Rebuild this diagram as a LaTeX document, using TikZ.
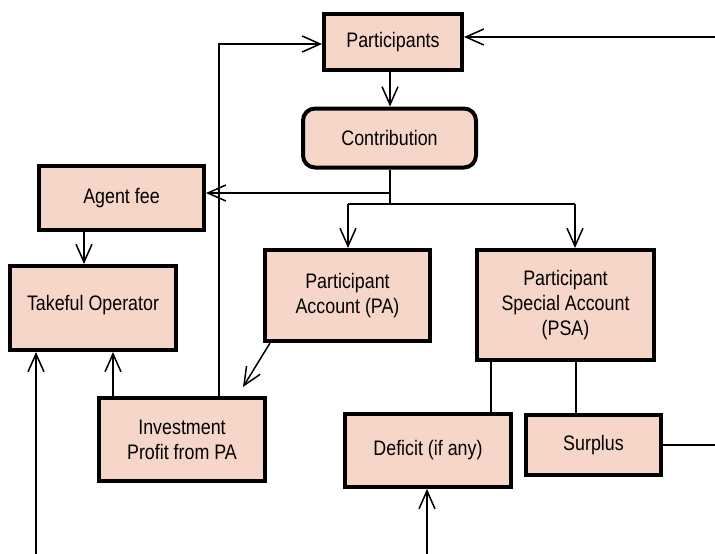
\documentclass[tikz,border=0pt]{standalone}
\usepackage{fontspec}
\setmainfont{Liberation Sans}[FakeStretch=0.85]
\usetikzlibrary{arrows.meta,calc}
\definecolor{boxfill}{RGB}{246,214,201}
\begin{document}
\begin{tikzpicture}[x=1pt,y=-1pt,
  box/.style={draw=black,fill=boxfill,line width=4pt,align=center,
    inner sep=2pt,font=\fontsize{21}{25}\selectfont},
  link/.style={draw=black,line width=1.5pt},
  arr/.style={link,-{Straight Barb[length=18pt,width=16pt,line width=1.5pt]}}]
\useasboundingbox (0,0) rectangle (715,554);

% boxes
\node[box,minimum width=138pt,minimum height=56pt] (part) at (393,42) {Participants};
\node[box,rounded corners=12pt,minimum width=173pt,minimum height=59pt] (contrib) at (389.5,138) {Contribution};
\node[box,minimum width=165pt,minimum height=64pt] (agent) at (121.5,198) {Agent fee};
\node[box,minimum width=166pt,minimum height=84pt,text depth=10pt] (oper) at (93,308) {Takeful Operator};
\node[box,minimum width=166pt,minimum height=83pt] (invest) at (182,439.5) {Investment\\Profit from PA};
\node[box,minimum width=165pt,minimum height=91pt] (pa) at (347.5,295.5) {Participant\\Account (PA)};
\node[box,minimum width=177pt,minimum height=110pt] (psa) at (565.5,305) {Participant\\Special Account\\(PSA)};
\node[box,minimum width=166pt,minimum height=73pt] (deficit) at (428,450.5) {Deficit (if any)};
\node[box,minimum width=135pt,minimum height=60pt] (surplus) at (593.5,445) {Surplus};

% free ends and corners
\coordinate (inR) at (715,37);
\coordinate (loopTop) at (219,44);
\coordinate (split) at (390,193);
\coordinate (fork) at (390,204);
\coordinate (forkL) at (348,204);
\coordinate (forkR) at (575,204);
\coordinate (paOut) at (270,343);
\coordinate (paTip) at (243,387);
\coordinate (inOper) at (36,554);
\coordinate (inDef) at (427,554);
\coordinate (outSur) at (715,445);

% connectors
\draw[arr] (inR) -- (inR -| part.east);
\draw[arr] (loopTop |- invest.north) -- (loopTop) -- (loopTop -| part.west);
\draw[arr] (part.south -| split) -- (contrib.north -| split);
\draw[link] (contrib.south -| split) -- (fork);
\draw[arr] (split) -- (split -| agent.east);
\draw[link] (forkL) -- (forkR);
\draw[arr] (forkL) -- (forkL |- pa.north);
\draw[arr] (forkR) -- (forkR |- psa.north);
\draw[arr] (agent.south -| 84,0) -- (oper.north -| 84,0);
\draw[arr] (paOut) -- (paTip);
\draw[arr] (invest.north -| 113,0) -- (oper.south -| 113,0);
\draw[arr] (inOper) -- (inOper |- oper.south);
\draw[link] (psa.south -| 491,0) -- (deficit.north -| 491,0);
\draw[link] (psa.south -| 576,0) -- (surplus.north -| 576,0);
\draw[link] (surplus.east |- outSur) -- (outSur);
\draw[arr] (inDef) -- (inDef |- deficit.south);
\end{tikzpicture}
\end{document}
